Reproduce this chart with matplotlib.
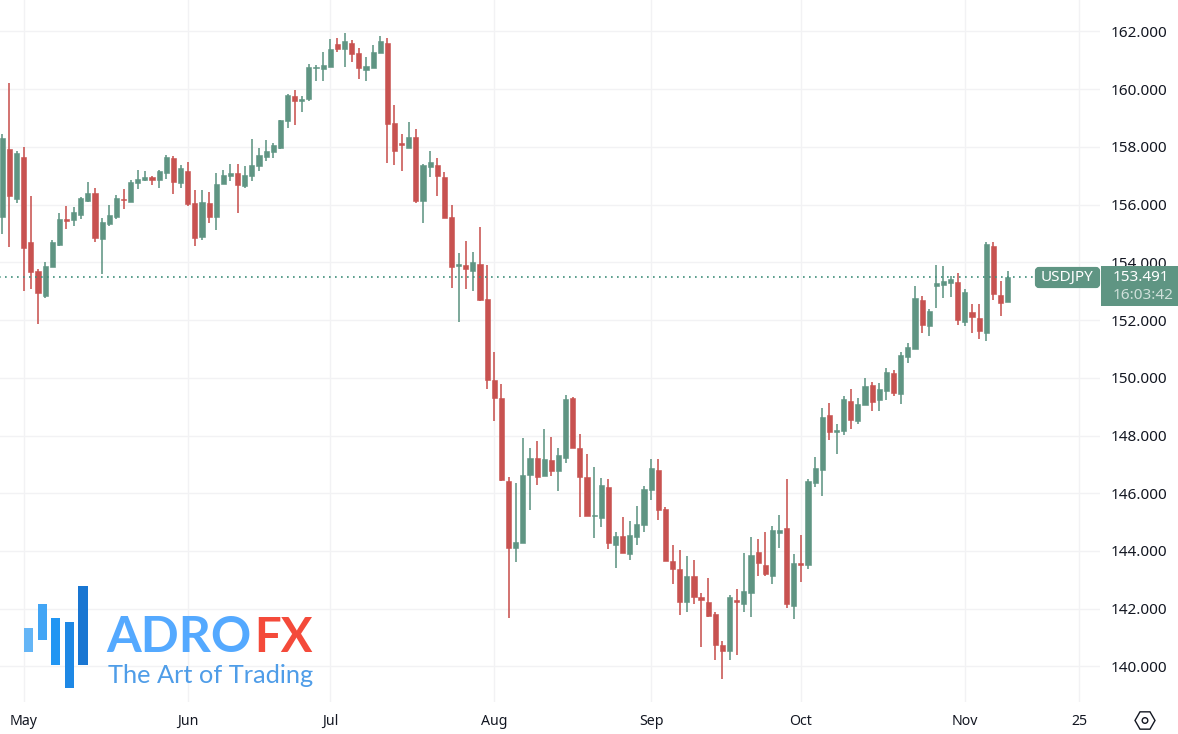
import matplotlib
matplotlib.use("Agg")
import matplotlib.pyplot as plt
from matplotlib.patches import Rectangle, FancyBboxPatch, RegularPolygon, Circle

# daily candles
opens = [155.58,157.91,156.20,157.66,154.70,153.69,152.83,153.84,154.60,155.49,155.47,155.65,156.11,156.40,154.81,155.33,155.57,156.19,156.10,156.75,
156.85,156.97,156.85,157.09,157.61,156.75,157.17,156.05,154.86,156.05,155.57,156.72,156.99,157.09,156.64,156.99,157.32,157.65,157.83,157.96,
158.89,159.76,159.60,159.66,160.73,160.70,160.75,161.55,161.39,161.60,161.25,160.67,160.74,161.25,161.60,158.83,158.12,157.96,158.33,156.12,
157.31,157.38,156.96,155.57,153.88,153.90,153.69,153.93,152.73,149.91,149.30,146.42,144.09,144.28,146.62,147.21,146.59,147.14,146.77,147.23,
149.29,147.56,146.55,145.20,145.13,146.22,144.21,144.51,143.88,144.47,144.89,146.10,146.82,145.47,143.67,143.39,142.25,143.12,142.39,142.25,
141.83,140.76,140.52,142.32,142.18,142.53,143.98,143.53,143.12,144.64,144.78,142.11,143.60,143.50,146.35,146.79,148.71,148.11,148.16,149.20,
148.50,149.06,149.75,149.23,149.54,150.17,149.44,150.72,151.01,152.70,151.79,153.18,153.23,153.28,153.32,151.94,152.28,152.07,151.54,154.57,
152.87,152.62]
highs = [158.44,160.20,157.84,158.00,156.30,153.77,154.00,154.77,155.71,155.95,155.92,156.25,156.78,156.57,155.52,155.98,156.32,156.54,156.85,157.20,
157.17,156.99,157.20,157.72,157.68,157.37,157.47,156.50,156.50,156.45,157.09,157.20,157.41,157.39,157.34,158.26,157.96,158.24,158.12,158.93,
159.83,159.95,159.76,160.87,160.83,161.28,161.73,161.76,161.95,161.70,161.41,161.11,161.53,161.83,161.77,159.45,158.44,158.86,158.62,157.40,
157.86,157.61,157.13,155.98,154.32,154.73,154.35,155.21,153.90,150.88,149.77,146.56,146.36,147.90,147.56,147.80,148.22,147.94,147.56,149.39,
149.32,148.04,147.35,146.90,146.52,146.48,144.65,145.17,145.03,145.55,146.24,147.17,147.20,145.54,144.20,144.02,143.81,143.70,142.53,143.05,
141.87,140.90,142.46,142.70,143.92,144.47,144.43,144.67,144.85,145.23,146.50,143.91,144.54,146.51,147.24,148.97,149.13,148.39,149.37,149.60,
149.30,149.99,149.85,149.82,150.34,150.27,150.89,151.21,153.18,152.83,152.38,153.91,153.87,153.53,153.63,153.08,152.56,152.56,154.70,154.70,
153.35,153.70]
lows = [154.98,154.54,156.07,153.02,153.08,151.86,152.76,153.84,154.55,155.15,155.26,155.50,156.09,154.69,153.59,155.27,155.50,155.85,156.09,156.54,
156.83,156.68,156.58,156.90,156.37,156.57,155.96,154.55,154.76,155.36,155.12,156.71,156.82,155.71,156.57,156.82,157.16,157.52,157.61,157.92,
158.66,158.76,159.19,159.60,160.28,160.27,160.75,161.28,160.76,160.94,160.34,160.27,160.73,161.25,157.44,157.37,157.17,157.96,156.05,155.36,
156.96,156.30,155.53,153.11,151.93,153.08,153.01,152.65,149.60,148.50,146.41,141.67,143.61,144.28,145.42,146.27,146.59,146.59,146.07,147.04,
147.56,145.17,145.20,144.44,144.82,144.06,143.41,143.92,143.68,144.20,144.65,145.75,145.09,143.67,142.84,141.77,141.90,142.18,140.69,141.70,
140.23,139.55,140.23,140.41,141.87,141.70,143.15,143.12,142.87,144.09,142.04,141.63,142.94,143.39,146.20,145.89,147.85,147.36,148.02,148.23,
148.40,149.06,148.85,148.85,149.23,149.37,149.09,150.51,151.01,151.55,151.45,152.41,152.76,152.80,151.83,151.79,151.54,151.33,151.27,152.70,
152.14,152.62]
closes = [158.31,156.30,157.79,154.49,153.68,152.94,153.88,154.69,155.50,155.43,155.74,156.23,156.40,154.84,155.40,155.63,156.24,156.16,156.78,156.88,
156.94,156.85,157.16,157.66,156.78,157.27,156.02,154.84,156.10,155.57,156.71,157.02,157.09,156.69,157.02,157.37,157.72,157.86,158.06,158.93,
159.80,159.59,159.65,160.76,160.76,160.83,161.39,161.39,161.67,161.23,160.73,160.80,161.28,161.67,158.79,157.87,158.07,158.33,156.11,157.37,
157.47,156.99,155.53,153.84,153.93,153.75,154.00,152.68,149.92,149.29,146.47,144.09,144.30,146.64,147.23,146.56,147.17,146.77,147.31,149.25,
147.56,146.55,145.21,145.24,146.27,144.28,144.51,143.92,144.54,144.95,146.14,146.88,145.43,143.67,143.39,142.22,143.13,142.39,142.32,141.75,
140.76,140.53,142.39,142.25,142.60,143.87,143.57,143.22,144.71,144.74,142.15,143.60,143.50,146.41,146.89,148.64,148.12,148.18,149.27,148.54,
149.09,149.72,149.16,149.61,150.20,149.46,150.79,151.07,152.76,151.82,152.31,153.28,153.35,153.42,152.00,152.97,152.11,151.61,154.63,152.90,
152.59,153.491]

price_ticks = [140, 142, 144, 146, 148, 150, 152, 154, 156, 158, 160, 162]
time_tick_idx = [3, 26, 46, 69, 91, 112, 135, 151]
time_tick_labels = ["May", "Jun", "Jul", "Aug", "Sep", "Oct", "Nov", "25"]
symbol = "USDJPY"
last_price = 153.491
countdown = "16:03:42"

GREEN = "#5f9583"
RED = "#c85250"
GRID = "#f2f2f4"
TEXT = "#131722"
W, H = 1178, 734
PLOT_W, PLOT_H = 1100, 702
FONT = ["Noto Sans", "DejaVu Sans"]
plt.rcParams["font.family"] = FONT

fig = plt.figure(figsize=(W / 100, H / 100), dpi=100, facecolor="white")
ax = fig.add_axes([0, 1 - PLOT_H / H, PLOT_W / W, PLOT_H / H])
ax.set_xlim(-0.323, 153.95)
ax.set_ylim(138.77, 163.084)
for s in ax.spines.values():
    s.set_visible(False)
ax.set_axisbelow(True)
ax.grid(True, color=GRID, linewidth=1.0)

colors = [GREEN if c >= o else RED for o, c in zip(opens, closes)]
xs = list(range(len(opens)))
ax.vlines(xs, lows, highs, colors=colors, linewidth=1.15, zorder=3)
ax.bar(xs, [abs(c - o) for o, c in zip(opens, closes)],
       bottom=[min(o, c) for o, c in zip(opens, closes)],
       width=0.72, color=colors, edgecolor=colors, linewidth=0.4, zorder=4)
ax.plot([-1, 144.8], [last_price, last_price], color="#3f8f7a",
        linestyle=(0, (1, 2.6)), linewidth=1.2, zorder=5)

ax.yaxis.tick_right()
ax.set_yticks(price_ticks)
ax.set_yticklabels([f"{p:.3f}" for p in price_ticks], fontsize=11, color=TEXT)
ax.set_xticks(time_tick_idx)
ax.set_xticklabels(time_tick_labels, fontsize=10.2, color=TEXT)
for lab in ax.get_xticklabels()[:-1]:
    lab.set_fontweight("semibold")
ax.tick_params(axis="both", length=0)
ax.tick_params(axis="y", pad=7.5)
ax.tick_params(axis="x", pad=8.5)

# overlay in pixel space: price labels, logo, settings icon
ov = fig.add_axes([0, 0, 1, 1], facecolor="none")
ov.set_xlim(0, W)
ov.set_ylim(H, 0)
ov.axis("off")

ov.add_patch(FancyBboxPatch((1037, 269), 61, 17, boxstyle="round,pad=0,rounding_size=2",
                            mutation_aspect=1, fc=GREEN, ec=GREEN, lw=3))
ov.add_patch(Rectangle((1101, 266), 77, 40, fc=GREEN, ec="none"))
ov.text(1067, 277.5, symbol, color="white", fontsize=11, ha="center", va="center", fontweight="semibold")
ov.text(1112.5, 277.5, f"{last_price:.3f}", color="white", fontsize=11, ha="left", va="center")
ov.text(1112.5, 295.5, countdown, color="#cfe0da", fontsize=11, ha="left", va="center")

bars = [(24, 628, 9.3, 24.3, "#64b5f6"), (37.7, 604, 9, 36, "#42a5f5"),
        (51, 617.7, 9.3, 47, "#2196f3"), (64.7, 622.3, 9, 65.4, "#1e88e5"),
        (78.3, 586, 9.4, 78.7, "#1976d2")]
for x, y, w, h, c in bars:
    ov.add_patch(Rectangle((x, y), w, h, fc=c, ec="none"))
ov.text(106.5, 651.7, "ADRO", family=["Lato", "DejaVu Sans"], fontsize=36, fontweight="bold",
        color="#54a9ff", ha="left", va="baseline")
ov.text(254.5, 651.7, "FX", family=["Lato", "DejaVu Sans"], fontsize=34, fontweight="bold",
        color="#f44a3a", ha="left", va="baseline")
ov.text(108, 683, "The Art of Trading", family=["Lato", "DejaVu Sans"], fontsize=18.3,
        fontweight="normal", color="#4f9de8", ha="left", va="baseline")

ov.add_patch(RegularPolygon((1145, 720.5), 6, radius=10, orientation=0.5236,
                            fc="none", ec=TEXT, lw=1.0))
ov.add_patch(Circle((1145, 720.5), 2.8, fc="none", ec=TEXT, lw=1.0))

fig.savefig("out.png", dpi=100)
